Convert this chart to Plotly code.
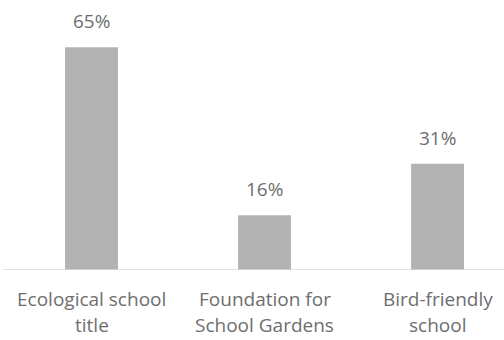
import plotly.graph_objects as go

categories_line1 = ["Ecological school", "Foundation for", "Bird-friendly"]
categories_line2 = ["title", "School Gardens", "school"]
values = [65, 16, 31]
labels = [f"{v}%" for v in values]

x_pos = list(range(len(values)))

fig = go.Figure(go.Bar(
    x=x_pos, y=values,
    marker=dict(color="#b3b3b3", line=dict(width=0)),
    width=0.306,
    hoverinfo="skip",
))

font_family = "Open Sans"
label_color = "#6e6e6e"

annotations = []
for xi, v, lab in zip(x_pos, values, labels):
    annotations.append(dict(
        x=xi, y=v, xref="x", yref="y", text=lab, showarrow=False,
        yanchor="middle", yshift=26,
        font=dict(family=font_family, size=19, color=label_color),
    ))
for xi, l1, l2 in zip(x_pos, categories_line1, categories_line2):
    annotations.append(dict(
        x=xi, y=0, xref="x", yref="paper", text=l1, showarrow=False,
        yanchor="middle", yshift=-29,
        font=dict(family=font_family, size=19, color=label_color),
    ))
    annotations.append(dict(
        x=xi, y=0, xref="x", yref="paper", text=l2, showarrow=False,
        yanchor="middle", yshift=-55,
        font=dict(family=font_family, size=19, color=label_color),
    ))

fig.update_layout(
    width=504, height=340,
    margin=dict(l=5, r=0, t=0, b=70, autoexpand=False),
    plot_bgcolor="white", paper_bgcolor="white",
    showlegend=False,
    annotations=annotations,
    xaxis=dict(
        range=[-0.5, 2.384], showticklabels=False, automargin=False,
        showgrid=False, zeroline=False, showline=False, ticks="",
    ),
    yaxis=dict(range=[0, 78.8], visible=False, showgrid=False, zeroline=False,
               automargin=False),
)
fig.add_shape(type="line", xref="paper", yref="y", x0=-0.004, x1=1, y0=0, y1=0,
              line=dict(color="#d9d9d9", width=1.5))

fig.write_html("out.html", config={"displayModeBar": False},
               post_script="document.body.style.margin='0';document.body.style.overflow='hidden';")
